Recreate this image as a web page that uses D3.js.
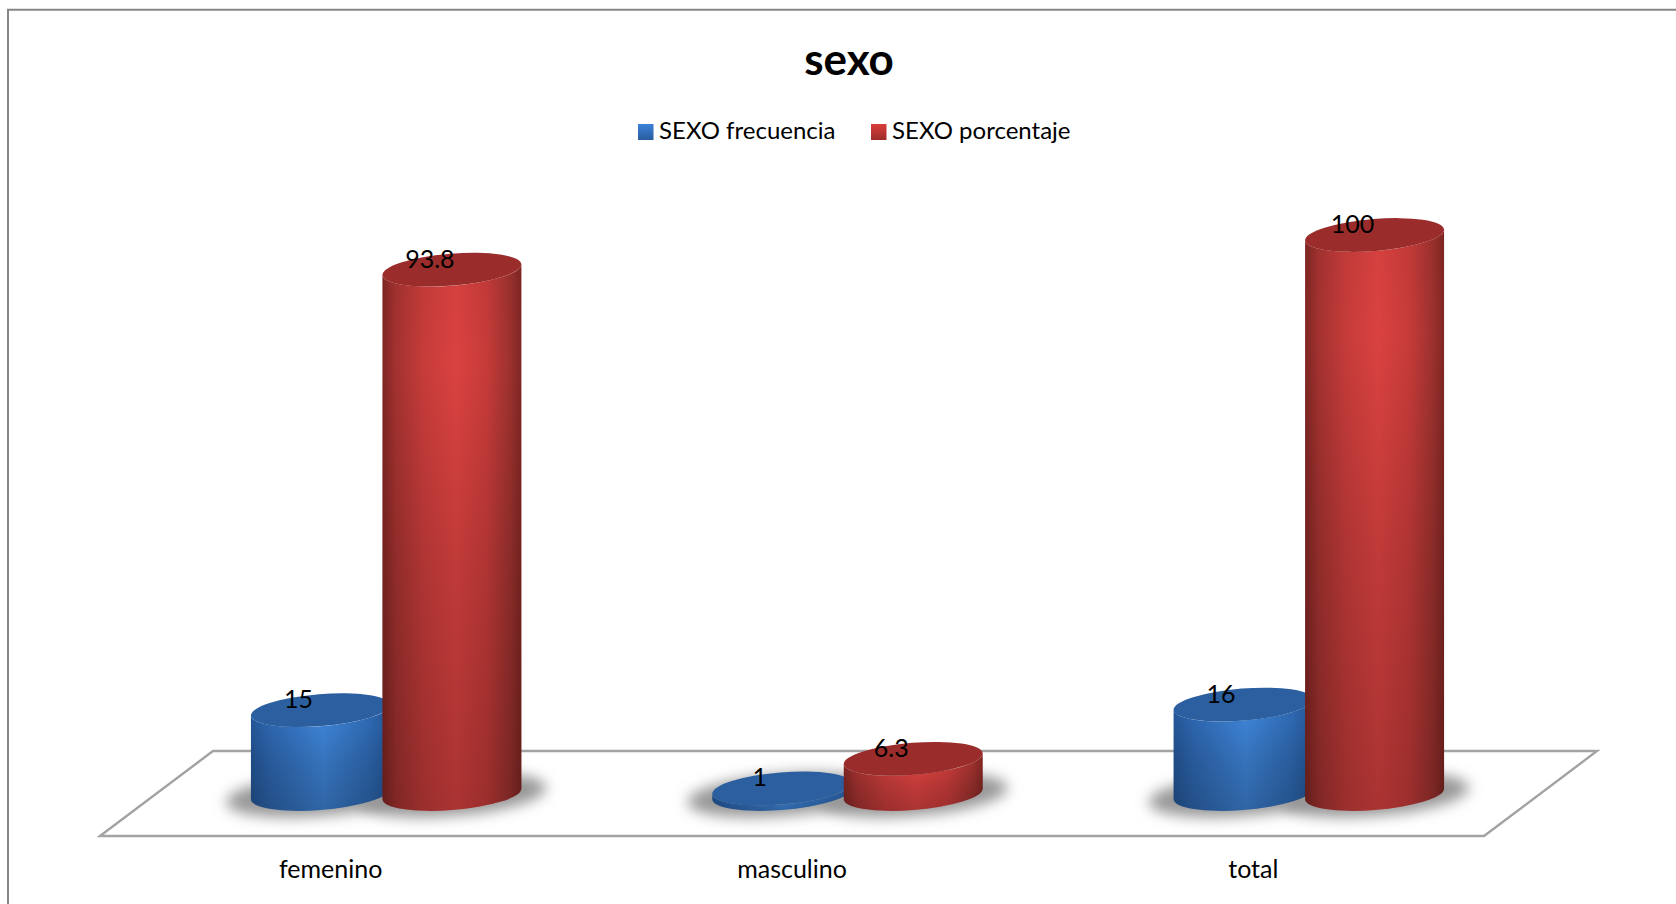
<!DOCTYPE html>
<html><head><meta charset="utf-8">
<script src="https://cdn.jsdelivr.net/npm/d3@7"></script>
<style>html,body{margin:0;padding:0;background:#fff;overflow:hidden}svg{display:block}text{font-family:Lato,"Open Sans",sans-serif;fill:#000}</style>
</head><body><svg id="c" width="1676" height="904"></svg>
<script>
const titleText = "sexo";
const categories = ["femenino", "masculino", "total"];
const seriesNames = ["SEXO frecuencia", "SEXO porcentaje"];
const frecuencia = [15, 1, 16];
const porcentaje = [93.8, 6.3, 100];
const valueTicks = [0, 100];

const svg = d3.select("#c");
const defs = svg.append("defs");

// chart frame (open at right and bottom, as cropped in the reference)
svg.append("path").attr("d","M8,904V9.7H1676").attr("fill","none").attr("stroke","#868686").attr("stroke-width",2);

const x0 = d3.scaleBand().domain(categories).range([100,1484]);
const step = 131.5, depthShift = 55.5;
const x1 = d3.scaleBand().domain(seriesNames).range([-step,step]);
const y = d3.scaleLinear().domain(valueTicks).range([794,235]);

// floor
const floorBack = 751, floorFront = 836;
svg.append("path").attr("d",`M100,${floorFront}L213,${floorBack}H1597L1484,${floorFront}Z`)
  .attr("fill","#fff").attr("stroke","#a3a3a3").attr("stroke-width",2.4).attr("stroke-linejoin","miter");

// gradients
const blur = defs.append("filter").attr("id","blur").attr("x","-30%").attr("y","-60%").attr("width","160%").attr("height","220%");
blur.append("feGaussianBlur").attr("stdDeviation",7);
function hGrad(id,stops){
  const g=defs.append("linearGradient").attr("id",id);
  stops.forEach(s=>g.append("stop").attr("offset",s[0]).attr("stop-color",s[1]));
}
hGrad("g0",[[0,"#235595"],[.14,"#2d65ad"],[.52,"#3d82d4"],[.85,"#2e68b0"],[1,"#235595"]]);
hGrad("g1",[[0,"#7f2623"],[.1,"#a43230"],[.3,"#c63c3a"],[.53,"#da4240"],[.75,"#c63b39"],[.92,"#9c312e"],[1,"#7f2623"]]);
const shade=defs.append("linearGradient").attr("id","shade").attr("x1",0).attr("x2",0).attr("y1",0).attr("y2",1);
[[0,.03],[.18,0],[.55,.12],[1,.22]].forEach(s=>shade.append("stop").attr("offset",s[0]).attr("stop-color","#000").attr("stop-opacity",s[1]));
function vGrad(id,a,b){
  const g=defs.append("linearGradient").attr("id",id).attr("x1",0).attr("x2",0).attr("y1",0).attr("y2",1);
  g.append("stop").attr("offset",0).attr("stop-color",a);
  g.append("stop").attr("offset",1).attr("stop-color",b);
}
vGrad("l0","#3b82d8","#2a5c9e");
vGrad("l1","#da3d3b","#9c2d2b");

// cylinder geometry
const a=69.7,b=16,tilt=-4.6,rad=tilt*Math.PI/180;
const hw=Math.sqrt(a*a*Math.cos(rad)**2+b*b*Math.sin(rad)**2);
const off=(a*a-b*b)*Math.sin(-rad)*Math.cos(rad)/hw;

const rows=[];
categories.forEach((c,i)=>{
  rows.push({c,s:seriesNames[0],v:frecuencia[i],k:0});
  rows.push({c,s:seriesNames[1],v:porcentaje[i],k:1});
});
const cx=d=>x0(d.c)+x0.bandwidth()/2+depthShift+x1(d.s)+x1.bandwidth()/2;

// shadows
svg.append("g").selectAll("ellipse").data(rows).join("ellipse")
  .attr("cx",cx).attr("cy",y(0)+1).attr("rx",a+25).attr("ry",b+5)
  .attr("transform",d=>`rotate(${tilt} ${cx(d)} ${y(0)+1})`)
  .attr("fill","#979797").attr("filter","url(#blur)");

// bodies
const topColor=["#2b5f9f","#9a2d2b"];
const g=svg.append("g").selectAll("g").data(rows).join("g");
const body=d=>{
  const X=cx(d),t=y(d.v),bt=y(0);
  return `M${X-hw},${t+off}A${a},${b} ${tilt} 0 0 ${X+hw},${t-off}L${X+hw},${bt-off}A${a},${b} ${tilt} 0 1 ${X-hw},${bt+off}Z`;
};
g.append("path").attr("d",body).attr("fill",d=>`url(#g${d.k})`);
g.append("path").attr("d",body).attr("fill","url(#shade)");
g.append("ellipse").attr("cx",cx).attr("cy",d=>y(d.v)).attr("rx",a).attr("ry",b)
  .attr("transform",d=>`rotate(${tilt} ${cx(d)} ${y(d.v)})`)
  .attr("fill",d=>topColor[d.k]);
// data labels
svg.append("g").selectAll("text").data(rows).join("text")
  .attr("x",d=>cx(d)-22).attr("y",d=>y(d.v)-2).attr("text-anchor","middle")
  .attr("font-size",25).text(d=>d.v);

// category axis
const ax=svg.append("g").attr("transform","translate(0,878)")
  .call(d3.axisBottom(x0).tickSize(0).tickPadding(0));
ax.select(".domain").remove();
ax.selectAll("text").attr("y",0).attr("dy",0).attr("font-size",25).style("font-family","Lato,sans-serif").style("fill","#000");

// title
svg.append("text").attr("x",849).attr("y",75).attr("text-anchor","middle")
  .attr("font-size",44).attr("font-weight",700).text(titleText);

// legend
const legX=[638,871];
const leg=svg.append("g").selectAll("g").data(seriesNames).join("g");
leg.append("rect").attr("x",(d,i)=>legX[i]).attr("y",124).attr("width",15.5).attr("height",16).attr("fill",(d,i)=>`url(#l${i})`);
leg.append("text").attr("x",(d,i)=>legX[i]+21).attr("y",139).attr("font-size",24).text(d=>d);
</script></body></html>
